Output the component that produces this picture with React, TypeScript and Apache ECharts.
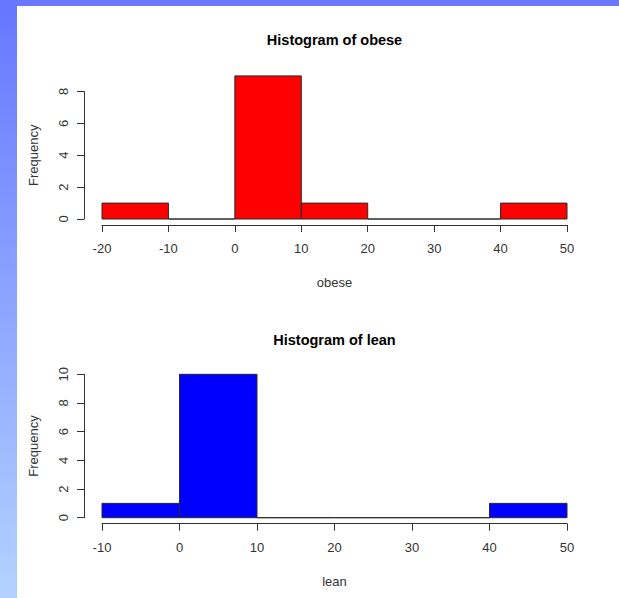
import React, { useEffect, useRef } from "react";
import * as echarts from "echarts";

// Histogram of obese: bin edges and counts
const obeseBreaks = [-20, -10, 0, 10, 20, 30, 40, 50];
const obeseCounts = [1, 0, 9, 1, 0, 0, 1];
// Histogram of lean
const leanBreaks = [-10, 0, 10, 20, 30, 40, 50];
const leanCounts = [1, 10, 0, 0, 0, 1];

const obeseYTicks = [0, 2, 4, 6, 8];
const leanYTicks = [0, 2, 4, 6, 8, 10];

const toBins = (breaks: number[], counts: number[]) =>
  counts.map((c, i) => [breaks[i], breaks[i + 1], c]);

const FONT = "Liberation Sans, Arial, sans-serif";

const makeRender = (fill: string) => (params: any, api: any) => {
  const x0 = api.value(0);
  const x1 = api.value(1);
  const c = api.value(2);
  const p0 = api.coord([x0, 0]);
  const p1 = api.coord([x1, c]);
  return {
    type: "rect",
    shape: { x: p0[0], y: p1[1], width: p1[0] - p0[0], height: p0[1] - p1[1] },
    style: { fill, stroke: "#2a2a2a", lineWidth: 1 },
  };
};

export default function App() {
  const ref = useRef<HTMLDivElement>(null);
  useEffect(() => {
    if (!ref.current) return;
    const chart = echarts.init(ref.current, null, { renderer: "svg" });

    const xAxisCommon = {
      type: "value",
      interval: 10,
      axisLine: { show: true, onZero: false, lineStyle: { color: "#333", width: 1 } },
      axisTick: { show: true, length: 7, lineStyle: { color: "#333" } },
      axisLabel: { color: "#333", fontSize: 13, fontFamily: FONT, margin: 17 },
      splitLine: { show: false },
      nameLocation: "middle",
      nameTextStyle: { color: "#333", fontSize: 13, fontFamily: FONT },
    };
    const yAxisCommon = {
      type: "value",
      interval: 2,
      offset: 18,
      axisLine: { show: true, onZero: false, lineStyle: { color: "#333", width: 1 } },
      axisTick: { show: true, length: 7, lineStyle: { color: "#333" } },
      axisLabel: { color: "#333", fontSize: 13, fontFamily: FONT, rotate: 90, margin: 14 },
      splitLine: { show: false },
      nameLocation: "middle",
      nameGap: 44,
      nameTextStyle: { color: "#333", fontSize: 13, fontFamily: FONT },
    };

    const option: any = {
      animation: false,
      backgroundColor: "#ffffff",
      grid: [
        { left: 102, top: 75.9, width: 465, height: 143.1 },
        { left: 102, top: 91.5, width: 465, height: 127.5 },
        { left: 102, top: 374.3, width: 465, height: 143.4 },
      ],
      xAxis: [
        { ...xAxisCommon, gridIndex: 0, min: obeseBreaks[0], max: obeseBreaks[obeseBreaks.length - 1], offset: 6, name: "obese", nameGap: 51 },
        { type: "value", gridIndex: 1, min: -20, max: 50, show: false },
        { ...xAxisCommon, gridIndex: 2, min: leanBreaks[0], max: leanBreaks[leanBreaks.length - 1], offset: 6, name: "lean", nameGap: 51 },
      ],
      yAxis: [
        { type: "value", gridIndex: 0, min: 0, max: 9, show: false },
        { ...yAxisCommon, gridIndex: 1, min: obeseYTicks[0], max: obeseYTicks[obeseYTicks.length - 1], name: "Frequency" },
        { ...yAxisCommon, gridIndex: 2, min: leanYTicks[0], max: leanYTicks[leanYTicks.length - 1], name: "Frequency" },
      ],
      graphic: [
        { type: "rect", z: -10, shape: { x: 0, y: 0, width: 619, height: 6 }, style: { fill: "#6a77fe" } },
        {
          type: "rect", z: -10, shape: { x: 0, y: 0, width: 17, height: 598 },
          style: {
            fill: new echarts.graphic.LinearGradient(0, 0, 0, 1, [
              { offset: 0, color: "#6676ff" },
              { offset: 1, color: "#b4d2ff" },
            ]),
          },
        },
        { type: "text", x: 334.5, y: 40, style: { text: "Histogram of obese", font: `bold 14.5px ${FONT}`, fill: "#000", textAlign: "center", textVerticalAlign: "middle" } },
        { type: "text", x: 334.5, y: 340, style: { text: "Histogram of lean", font: `bold 14.5px ${FONT}`, fill: "#000", textAlign: "center", textVerticalAlign: "middle" } },
      ],
      series: [
        { type: "custom", xAxisIndex: 0, yAxisIndex: 0, clip: false, data: toBins(obeseBreaks, obeseCounts), renderItem: makeRender("#ff0000") },
        { type: "custom", xAxisIndex: 2, yAxisIndex: 2, clip: false, data: toBins(leanBreaks, leanCounts), renderItem: makeRender("#0000ff") },
      ],
    };
    chart.setOption(option);
    return () => chart.dispose();
  }, []);
  return (
    <div
      ref={ref}
      style={{ position: "absolute", left: 0, top: 0, width: 619, height: 598 }}
    />
  );
}
